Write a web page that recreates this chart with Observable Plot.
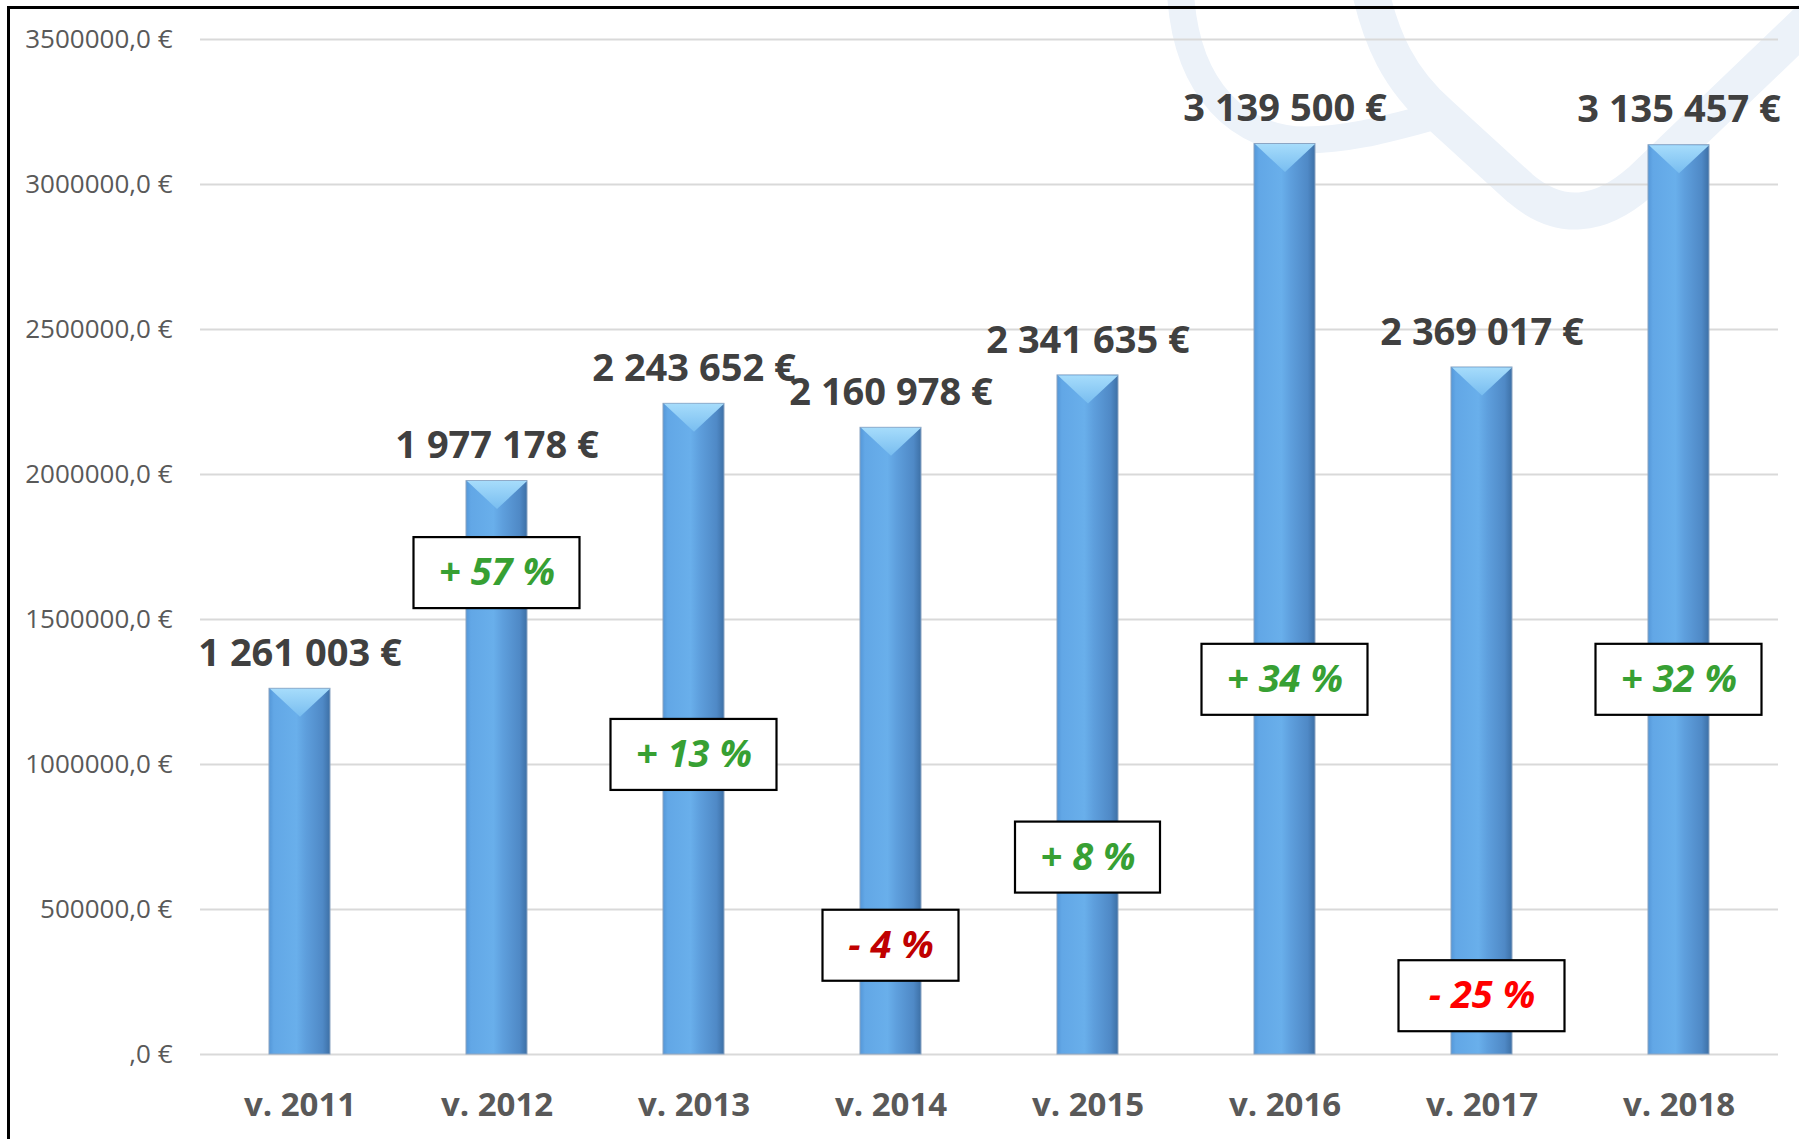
<!DOCTYPE html>
<html>
<head>
<meta charset="utf-8">
<script src="https://cdn.jsdelivr.net/npm/d3@7"></script>
<script src="https://cdn.jsdelivr.net/npm/@observablehq/plot@0.6"></script>
<style>
  html, body { margin: 0; padding: 0; background: #fff; }
  #wrap { position: relative; width: 1799px; height: 1139px; overflow: hidden; background: #fff; }
  #wm { position: absolute; left: 0; top: 0; }
  #chart { position: absolute; left: 0; top: 0; }
  #frame { position: absolute; left: 7px; top: 6px; width: 1820px; height: 1200px; border: 3px solid #000; box-sizing: border-box; pointer-events: none; }
</style>
</head>
<body>
<div id="wrap">
  <svg id="wm" width="1799" height="1139">
    <path d="M1180,-20 C1182,95 1245,140 1305,140 C1355,140 1400,125 1440,115" fill="none" stroke="#ecf2f9" stroke-width="27"/>
    <path d="M1368,-20 C1380,40 1400,80 1440,115 L1520,188 C1560,222 1600,217 1640,182 L1830,0" fill="none" stroke="#ecf2f9" stroke-width="37" stroke-linejoin="round"/>
  </svg>
  <div id="chart"></div>
  <div id="frame"></div>
</div>
<script>
// ---- data ----
const years = ["v. 2011", "v. 2012", "v. 2013", "v. 2014", "v. 2015", "v. 2016", "v. 2017", "v. 2018"];
const values = [1261003, 1977178, 2243652, 2160978, 2341635, 3139500, 2369017, 3135457];
const changes = [null, 57, 13, -4, 8, 34, -25, 32];          // % change vs previous year
const changeAnchor = [null, 1660000, 1033000, 375000, 679000, 1292000, 201000, 1292000]; // y value where the % box sits
const yTicks = [0, 500000, 1000000, 1500000, 2000000, 2500000, 3000000, 3500000];

// ---- formatting ----
const loc = d3.formatLocale({decimal: ",", thousands: " ", grouping: [3], currency: ["", " €"]});
const fmtValue = loc.format("$,.0f");
const fmtTick = d => (d === 0 ? "" : String(d)) + ",0 €";
const fmtChange = c => (c >= 0 ? "+ " : "- ") + Math.abs(c) + " %";
const changeColor = c => c >= 0 ? "#37a033" : (c > -10 ? "#c00000" : "#ff0000");

const data = years.map((year, i) => ({year, value: values[i], change: changes[i], anchor: changeAnchor[i]}));
const pct = data.filter(d => d.change != null);
const pctWide = pct.filter(d => Math.abs(d.change) >= 10);
const pctNarrow = pct.filter(d => Math.abs(d.change) < 10 && d.change < 0);
const pctMid = pct.filter(d => Math.abs(d.change) < 10 && d.change >= 0);

// bevel (top facet of the 3D bar)
const bevel = {draw(ctx) { ctx.moveTo(-30, 0); ctx.lineTo(30, 0); ctx.lineTo(0, 28); ctx.closePath(); }};

const boxOpts = (inset) => ({x: "year", y1: "anchor", y2: "anchor", insetTop: -35.5, insetBottom: -35.5,
  insetLeft: inset, insetRight: inset, fill: "white", stroke: "black", strokeWidth: 2.2});

const chart = Plot.plot({
  width: 1799, height: 1139,
  marginLeft: 200, marginRight: 21, marginTop: 39, marginBottom: 85,
  style: {background: "transparent", fontFamily: "'Open Sans', sans-serif"},
  x: {domain: years, paddingInner: 0.69, paddingOuter: 0.345, label: null},
  y: {domain: [0, 3500000], label: null},
  marks: [
    Plot.gridY(yTicks, {stroke: "#d9d9d9", strokeOpacity: 1, strokeWidth: 2}),
    Plot.axisY(yTicks, {tickFormat: fmtTick, tickSize: 0, tickPadding: 28, fontSize: 26, fill: "#595959", label: null}),
    Plot.axisX({tickSize: 0, tickPadding: 38, fontSize: 33, fontWeight: "bold", fill: "#595959", label: null}),
    Plot.barY(data, {x: "year", y: "value", fill: "url(#barGrad)", stroke: "#8aa4c2", strokeWidth: 1}),
    Plot.dot(data, {x: "year", y: "value", symbol: bevel, r: 10, fill: "url(#bevelGrad)", stroke: null}),
    Plot.text(data, {x: "year", y: "value", text: d => fmtValue(d.value), dy: -35, fontSize: 38, fontWeight: "bold", fill: "#404040"}),
    Plot.barY(pctWide, boxOpts(-52.5)),
    Plot.barY(pctMid, boxOpts(-42)),
    Plot.barY(pctNarrow, boxOpts(-37.5)),
    Plot.text(pct, {x: "year", y: "anchor", text: d => fmtChange(d.change), fontSize: 38, fontWeight: "bold", fontStyle: "italic", fill: d => changeColor(d.change)})
  ]
});

// gradients for the 3D look
const defs = d3.select(chart).insert("defs", ":first-child");
const g1 = defs.append("linearGradient").attr("id", "barGrad").attr("x1", "0").attr("x2", "1").attr("y1", "0").attr("y2", "0");
[["0%", "#5497d8"], ["8%", "#62a7e6"], ["45%", "#69afeb"], ["60%", "#5e9fdd"], ["88%", "#4f89c6"], ["100%", "#3d70a6"]]
  .forEach(([o, c]) => g1.append("stop").attr("offset", o).attr("stop-color", c));
const g2 = defs.append("linearGradient").attr("id", "bevelGrad").attr("x1", "0").attr("x2", "0").attr("y1", "0").attr("y2", "1");
[["0%", "#a6dcfb"], ["100%", "#78bdf0"]].forEach(([o, c]) => g2.append("stop").attr("offset", o).attr("stop-color", c));

document.getElementById("chart").appendChild(chart);
</script>
</body>
</html>
